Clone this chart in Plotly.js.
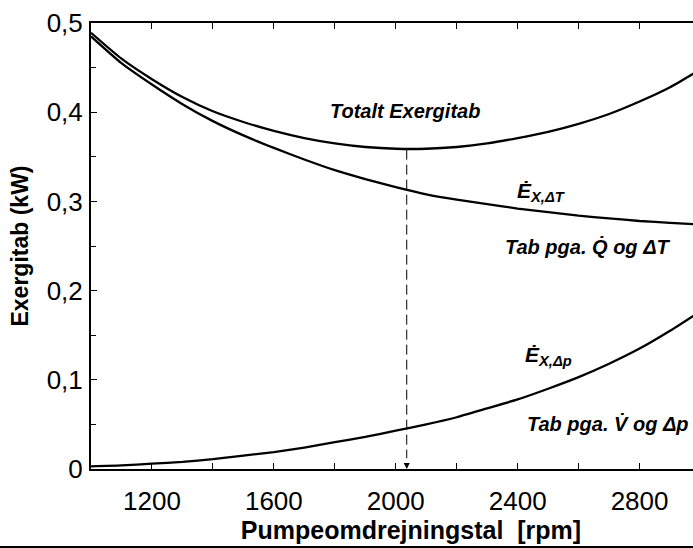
<!DOCTYPE html>
<html>
<head>
<meta charset="utf-8">
<script src="https://cdn.plot.ly/plotly-3.0.1.min.js"></script>
<style>
  html, body { margin: 0; padding: 0; background: #fff; }
  #wrap { position: relative; width: 693px; height: 548px; overflow: hidden; }
  #plot { position: absolute; left: 0; top: 0; width: 760px; height: 548px; }
  #bottomline { position: absolute; left: 0; top: 546px; width: 693px; height: 2px; background: #000; }
</style>
</head>
<body>
<div id="wrap"><div id="plot"></div><div id="bottomline"></div></div>
<script>
// Pump speed [rpm]
const rpm = [1000, 1100, 1200, 1300, 1400, 1500, 1600, 1700, 1800, 1900, 2000, 2100, 2200, 2300, 2400, 2500, 2600, 2700, 2800, 2900, 3000];
// Total exergy loss [kW]
const totalLoss = [0.489, 0.460, 0.437, 0.417, 0.401, 0.389, 0.379, 0.371, 0.365, 0.361, 0.359, 0.359, 0.361, 0.365, 0.371, 0.378, 0.387, 0.398, 0.412, 0.428, 0.448];
// Loss due to heat flow and temperature difference [kW]
const heatLoss = [0.485, 0.455, 0.431, 0.409, 0.390, 0.374, 0.360, 0.347, 0.335, 0.325, 0.316, 0.308, 0.302, 0.297, 0.292, 0.288, 0.284, 0.281, 0.278, 0.276, 0.274];
// Loss due to volume flow and pressure drop [kW]
const pressureLoss = [0.003, 0.004, 0.006, 0.008, 0.011, 0.015, 0.019, 0.024, 0.030, 0.036, 0.043, 0.050, 0.058, 0.068, 0.078, 0.090, 0.103, 0.118, 0.135, 0.155, 0.177];
// Optimum (minimum total loss)
const optimumRpm = 2036;
const optimumLoss = 0.358;
// Tick labels
const xTickVals = [1200, 1600, 2000, 2400, 2800];
const yTickVals = [0, 0.1, 0.2, 0.3, 0.4, 0.5];
const yTickText = ['0', '0,1', '0,2', '0,3', '0,4', '0,5'];

const lineStyle = {color: '#000', width: 2.3, shape: 'spline', smoothing: 0.6};
const traces = [
  {x: rpm, y: totalLoss, mode: 'lines', line: lineStyle, name: 'Totalt Exergitab', hoverinfo: 'skip'},
  {x: rpm, y: heatLoss, mode: 'lines', line: lineStyle, name: 'Tab pga. Q og ΔT', hoverinfo: 'skip'},
  {x: rpm, y: pressureLoss, mode: 'lines', line: lineStyle, name: 'Tab pga. V og Δp', hoverinfo: 'skip'}
];

const F = 'Liberation Sans, Arial, Helvetica, sans-serif';
function txt(x, y, text, size, xanchor) {
  return {x: x, y: y, xref: 'x', yref: 'y', text: text, showarrow: false,
          xanchor: xanchor || 'left', yanchor: 'middle', font: {family: F, size: size, color: '#000'}};
}

const annotations = [
  txt(2030, 0.401, '<b><i>Totalt Exergitab</i></b>', 20, 'center'),
  txt(2392, 0.310, '<b><i>\u0116<sub>X,ΔT</sub></i></b>', 21),
  txt(2352, 0.250, '<b><i>Tab pga. Q\u0307 og ΔT</i></b>', 20),
  txt(2418, 0.127, '<b><i>\u0116<sub>X,Δp</sub></i></b>', 21),
  txt(2425, 0.051, '<b><i>Tab pga. V\u0307 og Δp</i></b>', 20),
  {x: optimumRpm, y: 0, xref: 'x', yref: 'y', ax: 0, ay: -12, text: ' ', showarrow: true,
   arrowhead: 2, arrowsize: 1.2, arrowwidth: 1, arrowcolor: '#000', font: {size: 10}}
];

const shapes = [
  {type: 'line', xref: 'x', yref: 'y', x0: optimumRpm, x1: optimumRpm, y0: optimumLoss, y1: 0.012,
   line: {color: '#000', width: 1, dash: '10px,5px'}}
];

const layout = {
  width: 760, height: 548,
  margin: {l: 91, r: 29, t: 23, b: 79},
  paper_bgcolor: '#fff', plot_bgcolor: '#fff',
  showlegend: false,
  font: {family: F, color: '#000'},
  xaxis: {
    range: [1000, 3100], showgrid: false, zeroline: false,
    showline: true, linecolor: '#000', linewidth: 2, mirror: 'ticks',
    tickmode: 'array', tickvals: xTickVals,
    ticks: 'inside', ticklen: 6, tickwidth: 1, tickcolor: '#000',
    minor: {dtick: 200, tick0: 1000, ticks: 'inside', ticklen: 6, tickwidth: 1, tickcolor: '#000'},
    tickfont: {family: F, size: 26, color: '#000'},
    ticklabelstandoff: 8,
    title: {text: '<b>Pumpeomdrejningstal  [rpm]</b>', font: {family: F, size: 25, color: '#000'}, standoff: 6}
  },
  yaxis: {
    range: [0, 0.5], showgrid: false, zeroline: false,
    showline: true, linecolor: '#000', linewidth: 2, mirror: 'ticks',
    tickmode: 'array', tickvals: yTickVals, ticktext: yTickText,
    ticks: 'inside', ticklen: 6, tickwidth: 1, tickcolor: '#000',
    minor: {dtick: 0.05, tick0: 0, ticks: 'inside', ticklen: 5, tickwidth: 1, tickcolor: '#000'},
    tickfont: {family: F, size: 26, color: '#000'},
    ticklabelstandoff: 1,
    title: {text: '<b>Exergitab (kW)</b>', font: {family: F, size: 23, color: '#000'}, standoff: 12}
  },
  annotations: annotations,
  shapes: shapes
};

Plotly.newPlot('plot', traces, layout, {displayModeBar: false, staticPlot: true});
</script>
</body>
</html>
